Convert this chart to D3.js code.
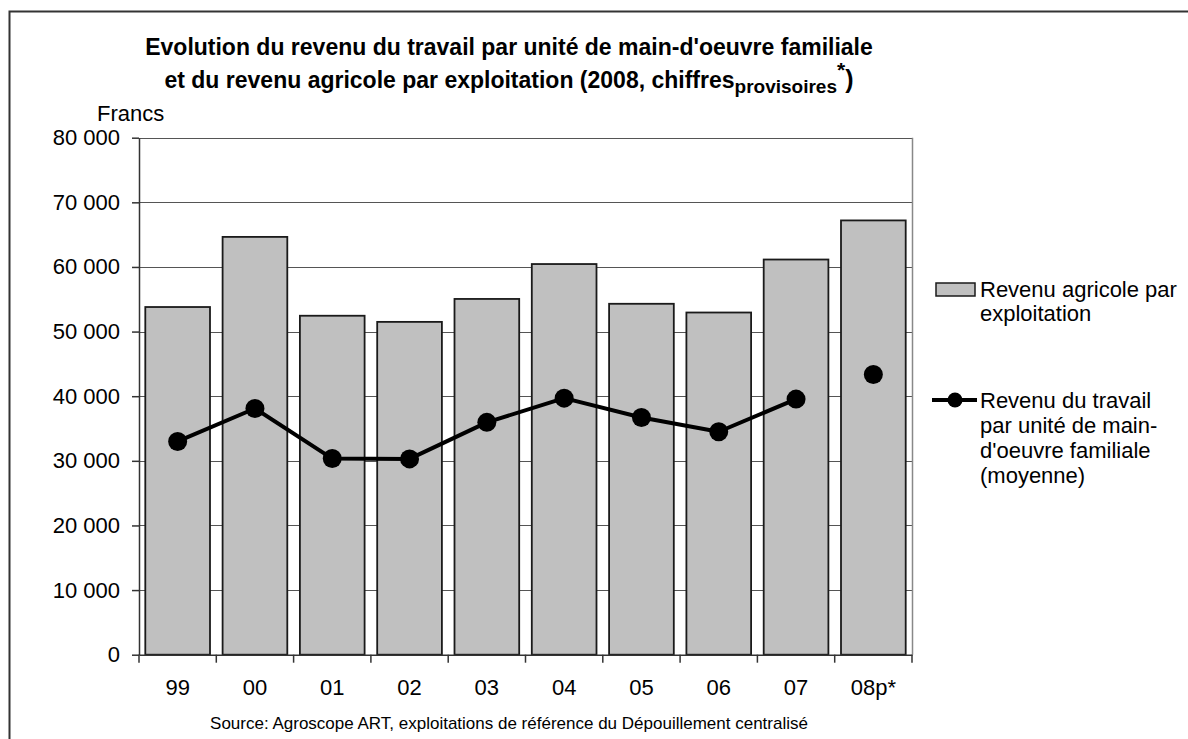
<!DOCTYPE html>
<html>
<head>
<meta charset="utf-8">
<script src="https://cdn.jsdelivr.net/npm/d3@7"></script>
<style>
  body { margin: 0; background: #fff; }
  svg text { font-family: Arial, "Liberation Sans", sans-serif; fill: #000; }
</style>
</head>
<body>
<script>
// Données (francs)
const annees = ["99", "00", "01", "02", "03", "04", "05", "06", "07", "08p*"];
const revenuAgricole = [53800, 64650, 52450, 51500, 55050, 60450, 54300, 52950, 61150, 67200];
const revenuTravail = [33000, 38100, 30350, 30300, 35950, 39700, 36700, 34500, 39550, 43350];
const provisoire = [false, false, false, false, false, false, false, false, false, true];
const yTicks = [0, 10000, 20000, 30000, 40000, 50000, 60000, 70000, 80000];

const width = 1188, height = 739;
const plot = { left: 139, right: 912, top: 137.7, bottom: 654.7 };

const svg = d3.select("body").append("svg")
  .attr("width", width)
  .attr("height", height);

// cadre extérieur
svg.append("rect")
  .attr("x", 9.5).attr("y", 11.5)
  .attr("width", 1300).attr("height", 900)
  .attr("fill", "none").attr("stroke", "#333").attr("stroke-width", 2);

// Echelles
const x = d3.scaleBand()
  .domain(annees)
  .range([plot.left, plot.right])
  .paddingInner(0.163)
  .paddingOuter(0.0815);

const y = d3.scaleLinear()
  .domain([0, 80000])
  .range([plot.bottom, plot.top]);

const fmt = v => d3.format(",")(v).replace(/,/g, " ");

// Grille
svg.append("g")
  .selectAll("line")
  .data(yTicks.filter(d => d > 0))
  .enter().append("line")
  .attr("x1", plot.left).attr("x2", plot.right)
  .attr("y1", d => Math.round(y(d)) + 0.5).attr("y2", d => Math.round(y(d)) + 0.5)
  .attr("stroke", "#555").attr("stroke-width", 1);

// bord droit de la zone de tracé
svg.append("line")
  .attr("x1", plot.right + 0.5).attr("x2", plot.right + 0.5)
  .attr("y1", plot.top).attr("y2", plot.bottom)
  .attr("stroke", "#888").attr("stroke-width", 1.5);

// Barres
svg.append("g")
  .selectAll("rect")
  .data(annees)
  .enter().append("rect")
  .attr("x", d => x(d))
  .attr("y", (d, i) => y(revenuAgricole[i]))
  .attr("width", x.bandwidth())
  .attr("height", (d, i) => plot.bottom - y(revenuAgricole[i]))
  .attr("fill", "#c0c0c0")
  .attr("stroke", "#1a1a1a")
  .attr("stroke-width", 1.8);

// Axe Y
const yAxis = svg.append("g")
  .attr("transform", `translate(${plot.left},0)`)
  .call(d3.axisLeft(y).tickValues(yTicks).tickFormat(fmt).tickSizeInner(7).tickSizeOuter(0).tickPadding(12));
yAxis.select(".domain").attr("stroke", "#333").attr("stroke-width", 1.5);
yAxis.selectAll(".tick line").attr("stroke", "#333").attr("stroke-width", 1.5);
yAxis.selectAll(".tick text").attr("font-size", 22).attr("font-family", "Arial, 'Liberation Sans', sans-serif").attr("fill", "#000");

// Axe X
const xAxis = svg.append("g")
  .attr("transform", `translate(0,${plot.bottom})`)
  .call(d3.axisBottom(x).tickSize(0).tickPadding(25));
xAxis.select(".domain").attr("stroke", "#333").attr("stroke-width", 1.5);
xAxis.selectAll(".tick text").attr("font-size", 22).attr("font-family", "Arial, 'Liberation Sans', sans-serif").attr("fill", "#000");

// graduations entre les catégories
const step = x.step();
svg.append("g")
  .selectAll("line")
  .data(d3.range(annees.length + 1))
  .enter().append("line")
  .attr("x1", i => plot.left + i * step).attr("x2", i => plot.left + i * step)
  .attr("y1", plot.bottom).attr("y2", plot.bottom + 8)
  .attr("stroke", "#333").attr("stroke-width", 1.5);

// Ligne revenu du travail
const cx = d => x(d) + x.bandwidth() / 2;
const pts = annees.map((a, i) => ({ a, v: revenuTravail[i], p: provisoire[i] }));

svg.append("path")
  .datum(pts)
  .attr("fill", "none")
  .attr("stroke", "#000")
  .attr("stroke-width", 4)
  .attr("stroke-linejoin", "round")
  .attr("d", d3.line().defined(d => !d.p).x(d => cx(d.a)).y(d => y(d.v)));

svg.append("g")
  .selectAll("circle")
  .data(pts)
  .enter().append("circle")
  .attr("cx", d => cx(d.a))
  .attr("cy", d => y(d.v))
  .attr("r", 9.5)
  .attr("fill", "#000");

// Titre
svg.append("text")
  .attr("x", 509).attr("y", 55)
  .attr("text-anchor", "middle")
  .attr("font-size", 23).attr("font-weight", "bold")
  .text("Evolution du revenu du travail par unité de main-d'oeuvre familiale");

const t2 = svg.append("text")
  .attr("x", 509).attr("y", 88)
  .attr("text-anchor", "middle")
  .attr("font-size", 23).attr("font-weight", "bold");
t2.append("tspan").text("et du revenu agricole par exploitation (2008, chiffres");
t2.append("tspan").attr("font-size", 19).attr("dy", 5).text("provisoires");
t2.append("tspan").attr("font-size", 21).attr("dy", -16).text("*");
t2.append("tspan").attr("font-size", 25).attr("dy", 11).text(")");

// Unité
svg.append("text")
  .attr("x", 97).attr("y", 121)
  .attr("font-size", 22)
  .text("Francs");

// Source
svg.append("text")
  .attr("x", 509).attr("y", 729)
  .attr("text-anchor", "middle")
  .attr("font-size", 17)
  .text("Source: Agroscope ART, exploitations de référence du Dépouillement centralisé");

// Légende
const leg = svg.append("g");
leg.append("rect")
  .attr("x", 936).attr("y", 283)
  .attr("width", 39).attr("height", 13)
  .attr("fill", "#c0c0c0").attr("stroke", "#1a1a1a").attr("stroke-width", 1.5);
leg.append("text")
  .attr("x", 980).attr("y", 297)
  .attr("font-size", 22)
  .selectAll("tspan")
  .data(["Revenu agricole par", "exploitation"])
  .enter().append("tspan")
  .attr("x", 980).attr("dy", (d, i) => i === 0 ? 0 : 24)
  .text(d => d);

leg.append("line")
  .attr("x1", 932).attr("x2", 977)
  .attr("y1", 400).attr("y2", 400)
  .attr("stroke", "#000").attr("stroke-width", 4);
leg.append("circle")
  .attr("cx", 955).attr("cy", 400).attr("r", 7.5)
  .attr("fill", "#000");
leg.append("text")
  .attr("x", 980).attr("y", 408)
  .attr("font-size", 22)
  .selectAll("tspan")
  .data(["Revenu du travail", "par unité de main-", "d'oeuvre familiale", "(moyenne)"])
  .enter().append("tspan")
  .attr("x", 980).attr("dy", (d, i) => i === 0 ? 0 : 25)
  .text(d => d);
</script>
</body>
</html>
